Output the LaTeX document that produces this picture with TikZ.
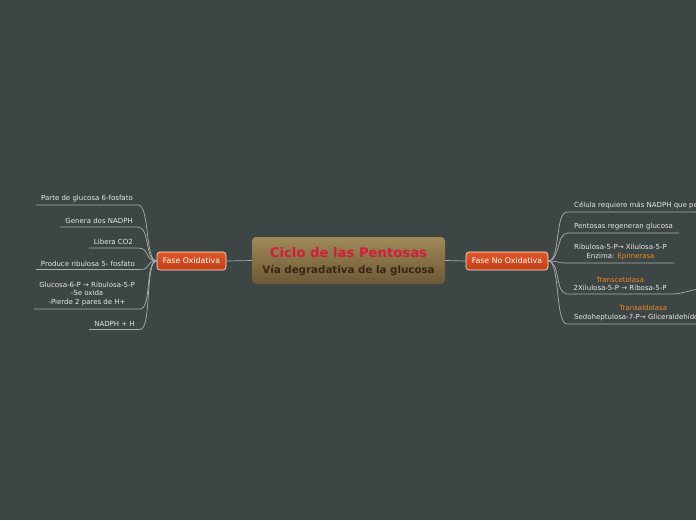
\documentclass[tikz,border=0pt]{standalone}
\usepackage{fontspec}
\setmainfont{DejaVu Sans}
\definecolor{bg}{HTML}{3E4545}
\definecolor{conn}{HTML}{A9AEAE}
\definecolor{leaftxt}{HTML}{E6E8E8}
\definecolor{accent}{HTML}{F08A24}
\definecolor{ttl}{HTML}{D21E3C}
\definecolor{sub}{HTML}{3A2412}
\definecolor{ctop}{HTML}{A08A58}
\definecolor{cbot}{HTML}{6C5836}
\definecolor{otop}{HTML}{E0582A}
\definecolor{obot}{HTML}{C23E16}
\tikzset{
  central/.style={rounded corners=4pt, top color=ctop, bottom color=cbot, draw=none,
    minimum width=193pt, minimum height=47pt, align=center, inner sep=0pt},
  phase/.style={rounded corners=3pt, top color=otop, bottom color=obot, draw=white!85!orange, line width=0.6pt,
    minimum height=18pt, inner xsep=4pt, inner ysep=0pt, text=white, font=\fontsize{7.8}{9}\selectfont},
  leaf/.style={inner xsep=5pt, inner ysep=3pt, text=leaftxt, font=\fontsize{7}{8.5}\selectfont, align=center},
  rleaf/.style={inner xsep=7pt, inner ysep=3pt, text=leaftxt, font=\fontsize{7}{8.5}\selectfont, align=center},
  conline/.style={draw=conn, line width=0.7pt},
}
\begin{document}
\begin{tikzpicture}[x=1pt,y=-1pt]
\fill[bg] (0,0) rectangle (696,520);
\useasboundingbox (0,0) rectangle (696,520);
\begin{scope}
\clip (0,0) rectangle (696,520);
\node[central] (c) at (348.5,260.5) {};
\node[text=ttl, font=\bfseries\fontsize{13.2}{15}\selectfont] (t1) at (348.5,253) {Ciclo de las Pentosas};
\node[text=sub, font=\bfseries\fontsize{10.3}{12}\selectfont] (t2) at (348.5,270) {Vía degradativa de la glucosa};

\node[phase, minimum width=69pt] (fo) at (191.5,261) {Fase Oxidativa};
\node[phase, minimum width=82pt] (fno) at (507,261) {Fase No Oxidativa};

\draw[conline] (c.west) -- (fo.east);
\draw[conline] (c.east) -- (fno.west);

% left leaves
\node[leaf, anchor=south east] (l1) at (138,205) {Parte de glucosa 6-fosfato};
\node[leaf, anchor=south east] (l2) at (138,227) {Genera dos NADPH};
\node[leaf, anchor=south east] (l3) at (138,248) {Libera CO2};
\node[leaf, anchor=south east] (l4) at (140,269.5) {Produce ribulosa 5- fosfato};
\node[leaf, anchor=south east] (l5) at (140,309) {Glucosa-6-P → Ribulosa-5-P\\-Se oxida\\-Pierde 2 pares de H+};
\node[leaf, anchor=south east] (l6) at (140,329.5) {NADPH + H};
\foreach \n in {l1,l2,l3,l4,l5,l6}{
  \draw[conline] (fo.west) .. controls +(-12,0) and +(12,0) .. (\n.south east) -- (\n.south west);
}

% right leaves
\node[rleaf, anchor=south west] (r1) at (567,212) {Célula requiere más NADPH que pentosas};
\node[rleaf, anchor=south west, inner xsep=6pt] (r2) at (568,233) {Pentosas regeneran glucosa};
\node[rleaf, anchor=south west] (r3) at (567,263) {Ribulosa-5-P→ Xilulosa-5-P\\Enzima: \textcolor{accent}{Epimerasa}};
\node[rleaf, anchor=south west, inner xsep=6.5pt] (r4) at (567,294) {\textcolor{accent}{Transcetolasa}\\2Xilulosa-5-P → Ribosa-5-P};
\node[rleaf, anchor=south west] (r5) at (567,324) {\textcolor{accent}{Transaldolasa}\\Sedoheptulosa-7-P→ Gliceraldehído-3-P};
\foreach \n in {r1,r2,r3,r4,r5}{
  \draw[conline] (fno.east) .. controls +(12,0) and +(-12,0) .. (\n.south west) -- (\n.south east);
}
\coordinate (r4x) at (710,287);
\draw[conline] (r4.south east) .. controls +(8,0) and +(-8,0) .. (r4x);
\end{scope}
\end{tikzpicture}
\end{document}
